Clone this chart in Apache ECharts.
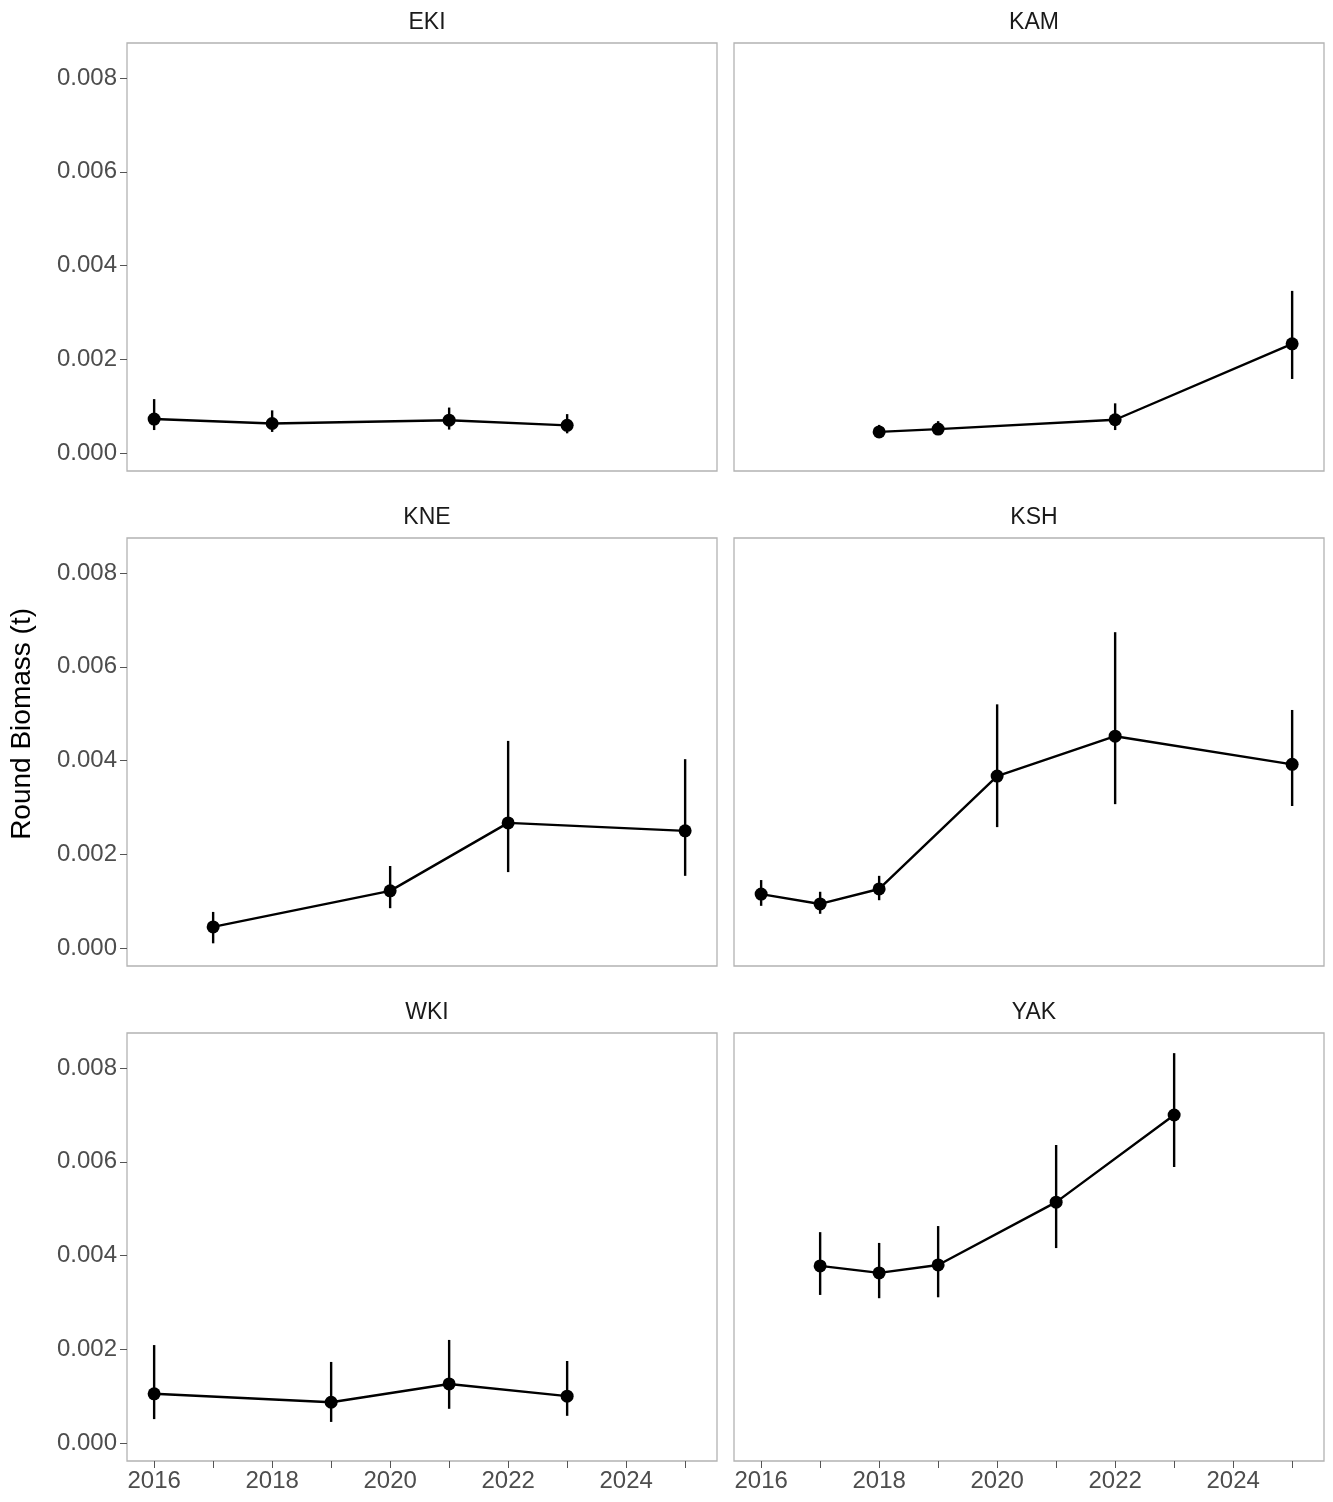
<!DOCTYPE html>
<html><head><meta charset="utf-8">
<script src="https://cdn.jsdelivr.net/npm/echarts@6/dist/echarts.min.js"></script>
<style>html,body{margin:0;padding:0;background:#fff}#c{width:1333px;height:1502px}</style>
</head><body><div id="c"></div>
<script>
const panels = ["EKI", "KAM", "KNE", "KSH", "WKI", "YAK"];
const years = [
  [2016, 2018, 2021, 2023],
  [2018, 2019, 2022, 2025],
  [2017, 2020, 2022, 2025],
  [2016, 2017, 2018, 2020, 2022, 2025],
  [2016, 2019, 2021, 2023],
  [2017, 2018, 2019, 2021, 2023]
];
const est = [
  [0.000725, 0.00063, 0.00070, 0.00059],
  [0.00045, 0.00051, 0.00071, 0.00233],
  [0.00045, 0.00122, 0.00267, 0.0025],
  [0.00115, 0.00094, 0.00126, 0.00367, 0.00452, 0.00392],
  [0.00105, 0.00087, 0.00126, 0.0010],
  [0.00378, 0.00363, 0.0038, 0.00514, 0.0070]
];
const lower = [
  [0.00049, 0.00045, 0.00050, 0.00042],
  [0.00035, 0.00040, 0.00049, 0.00158],
  [0.00010, 0.00085, 0.00162, 0.00154],
  [0.00090, 0.00073, 0.00102, 0.00258, 0.00307, 0.00303],
  [0.00051, 0.00045, 0.00073, 0.00058],
  [0.00316, 0.00309, 0.00311, 0.00416, 0.00589]
];
const upper = [
  [0.00115, 0.00091, 0.00097, 0.00083],
  [0.00060, 0.00068, 0.00106, 0.00346],
  [0.00077, 0.00175, 0.00442, 0.00403],
  [0.00145, 0.00120, 0.00154, 0.00520, 0.00674, 0.00508],
  [0.00209, 0.00173, 0.00220, 0.00175],
  [0.00450, 0.00427, 0.00463, 0.00636, 0.00832]
];
const yTicks = [0, 0.002, 0.004, 0.006, 0.008];
const xLabels = [2016, 2018, 2020, 2022, 2024];
const xTicks = [2016, 2017, 2018, 2019, 2020, 2021, 2022, 2023, 2024, 2025];

const font = 'Liberation Sans, Arial';
const lefts = [127, 734], tops = [43, 538, 1033], W = 590, H = 428;
const grid = [], xAxis = [], yAxis = [], series = [], title = [];
panels.forEach((p, i) => {
  const col = i % 2, row = Math.floor(i / 2);
  grid.push({left: lefts[col], top: tops[row], width: W, height: H, show: true,
    borderColor: '#b3b3b3', borderWidth: 1.3, backgroundColor: '#fff'});
  title.push({text: p, left: lefts[col] + W / 2, top: tops[row] - 37, textAlign: 'center',
    textStyle: {fontSize: 23, fontWeight: 'normal', color: '#1a1a1a', fontFamily: font}});
  const bottom = row === 2;
  xAxis.push({type: 'value', gridIndex: i, min: 2015.54, max: 2025.54, position: 'bottom',
    axisLine: {show: false, onZero: false}, splitLine: {show: false},
    axisTick: {show: bottom, inside: false, length: 7, lineStyle: {color: '#555'}, customValues: xTicks},
    axisLabel: {show: bottom, fontSize: 24, color: '#4d4d4d', margin: 8, customValues: xLabels,
      formatter: v => String(v), fontFamily: font}});
  yAxis.push({type: 'value', gridIndex: i, min: -0.000384, max: 0.00875,
    axisLine: {show: false, onZero: false}, splitLine: {show: false},
    axisTick: {show: col === 0, length: 7, lineStyle: {color: '#555'}, customValues: yTicks},
    axisLabel: {show: col === 0, fontSize: 24, color: '#4d4d4d', margin: 10, customValues: yTicks,
      formatter: v => v.toFixed(3), fontFamily: font}});
  const ebData = years[i].map((y, j) => [y, lower[i][j], upper[i][j]]);
  series.push({type: 'custom', xAxisIndex: i, yAxisIndex: i, data: ebData, z: 2,
    renderItem: (params, api) => {
      const a = api.coord([api.value(0), api.value(1)]);
      const b = api.coord([api.value(0), api.value(2)]);
      return {type: 'line', shape: {x1: a[0], y1: a[1], x2: b[0], y2: b[1]},
        style: {stroke: '#000', lineWidth: 2.4}};
    }});
  series.push({type: 'line', xAxisIndex: i, yAxisIndex: i, z: 3,
    data: years[i].map((y, j) => [y, est[i][j]]),
    symbol: 'circle', symbolSize: 13, showSymbol: true,
    itemStyle: {color: '#000'}, lineStyle: {color: '#000', width: 2.4}});
});

const chart = echarts.init(document.getElementById('c'));
chart.setOption({animation: false, title, grid, xAxis, yAxis, series,
  graphic: [{type: 'text', left: 8, top: 608, rotation: Math.PI / 2,
    style: {text: 'Round Biomass (t)', fontSize: 28, fill: '#000', fontFamily: font}}]});
</script></body></html>
